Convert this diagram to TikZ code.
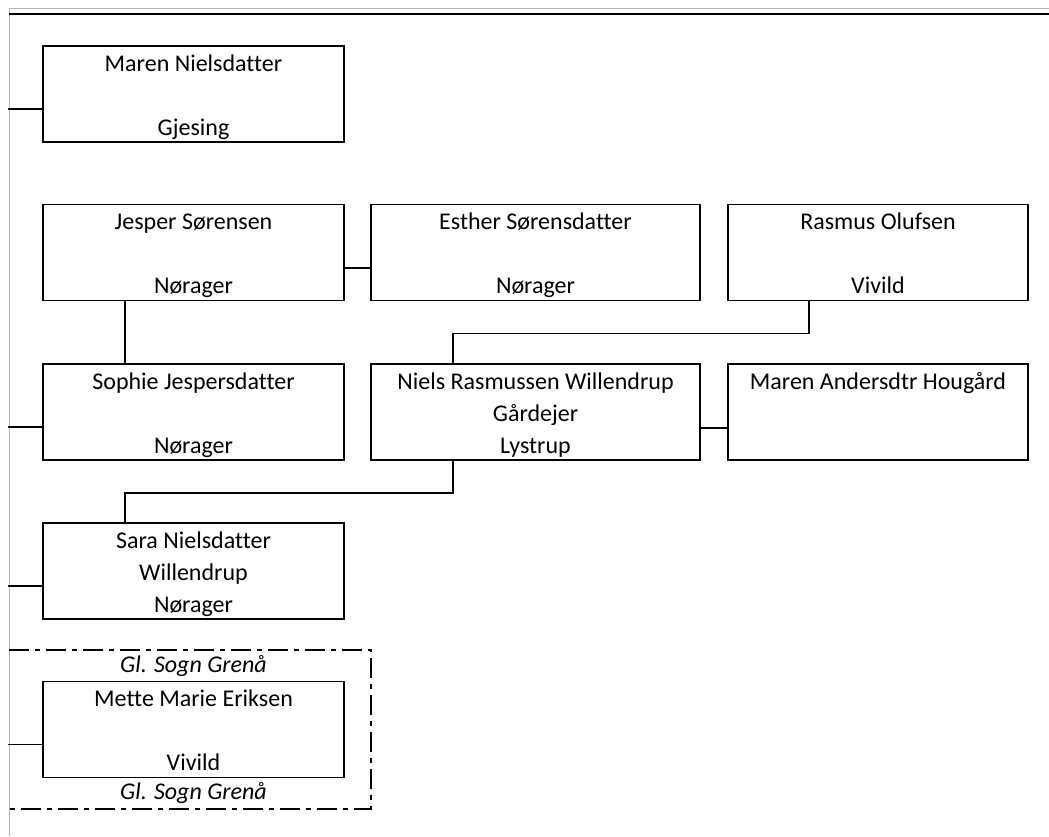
\documentclass[tikz,border=0pt]{standalone}
\usepackage{fontspec}
\setmainfont[Ligatures=NoCommon]{Carlito}
\usetikzlibrary{positioning,calc}

% struts that push the text a little down in the box
\newcommand\firststrut{\rule{0pt}{\dimexpr\ht\strutbox+3pt\relax}}
\newcommand\laststrut{\rule[-\dimexpr\dp\strutbox-3pt\relax]{0pt}{\ht\strutbox}}

\begin{document}
\begin{tikzpicture}[x=1pt, y=-1pt,
    person/.style={draw, line width=1.6pt, align=center, inner sep=0pt,
      minimum height=96pt, font=\fontsize{24}{32}\selectfont},
    narrow/.style={person, minimum width=301pt},
    wide/.style={person, minimum width=329pt},
    link/.style={line width=1.6pt},
    parish/.style={font=\fontsize{24}{32}\selectfont\itshape, inner sep=0pt}]

  \useasboundingbox (0,0) rectangle (1049,836);

  % Frame
  \draw[gray!60, line width=1pt] (9,836) -- (9,8) -- (1049,8);
  \draw[link] (9,14) -- (1049,14);

  % Persons
  \node[narrow] (maren) at (193.5,94) {\firststrut Maren Nielsdatter\\\strut\\\laststrut Gjesing};
  \node[narrow] (jesper) at (193.5,252.5) {\firststrut Jesper Sørensen\\\strut\\\laststrut Nørager};
  \node[wide] (esther) at (535.5,252.5) {\firststrut Esther Sørensdatter\\\strut\\\laststrut Nørager};
  \node[narrow, minimum width=300pt] (rasmus) at (878,252.5) {\firststrut Rasmus Olufsen\\\strut\\\laststrut Vivild};
  \node[narrow] (sophie) at (193.5,412) {\firststrut Sophie Jespersdatter\\\strut\\\laststrut Nørager};
  \node[wide] (niels) at (535.5,412) {\firststrut Niels Rasmussen Willendrup\\\strut Gårdejer\\\laststrut Lystrup};
  \node[narrow, minimum width=300pt] (hougaard) at (878,412) {\firststrut Maren Andersdtr Hougård\\\strut\\\laststrut};
  \node[narrow] (sara) at (193.5,571) {\firststrut Sara Nielsdatter\\\strut Willendrup\\\laststrut Nørager};
  \node[narrow] (mette) at (193.5,729.5) {\firststrut Mette Marie Eriksen\\\strut\\\laststrut Vivild};

  % Parish
  \node[parish, above=4pt of mette] (sognA) {Gl. Sogn Grenå};
  \node[parish, below=4pt of mette] (sognB) {Gl. Sogn Grenå};
  \draw[line width=1.2pt, dash pattern=on 20pt off 6pt on 5pt off 6pt]
    (9,650) -- (371,650) -- (371,809) -- (9,809);

  % Links to the left margin
  \foreach \p in {maren, sophie, sara, mette}
    \draw[link] ($(\p.west)+(0,15)$) -- ++(-34,0);

  % Couples
  \draw[link] ($(jesper.east)+(0,15.5)$) -- ($(esther.west)+(0,15.5)$);
  \draw[link] ($(niels.east)+(0,16)$) -- ($(hougaard.west)+(0,16)$);

  % Parents to children
  \draw[link] ($(jesper.south west)+(83,0)$) -- ($(sophie.north west)+(83,0)$);
  \coordinate (rasmusDown) at ($(rasmus.south west)+(82,0)$);
  \coordinate (nielsUp) at ($(niels.north west)+(83,0)$);
  \draw[link] (rasmusDown) -- ++(0,32) -| (nielsUp);
  \coordinate (nielsDown) at ($(niels.south west)+(83,0)$);
  \coordinate (saraUp) at ($(sara.north west)+(83,0)$);
  \draw[link] (nielsDown) -- ++(0,32) -| (saraUp);

\end{tikzpicture}
\end{document}
